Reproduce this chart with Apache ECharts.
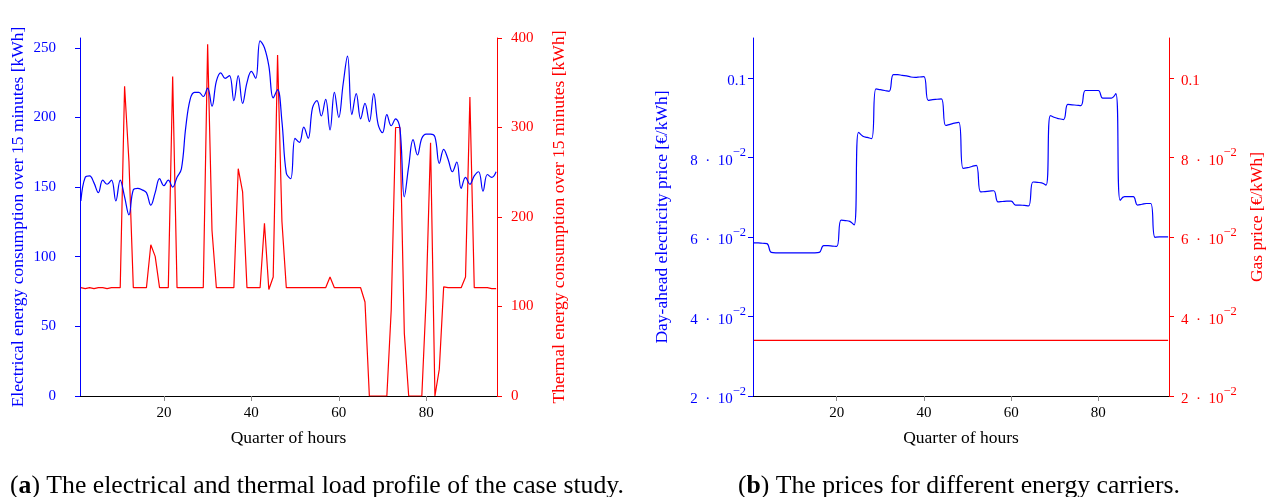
<!DOCTYPE html>
<html>
<head>
<meta charset="utf-8">
<title>Load profile and energy prices</title>
<script src="https://cdn.jsdelivr.net/npm/echarts@6/dist/echarts.min.js"></script>
<style>
  html, body { margin: 0; padding: 0; background: #fff; }
  #chart { width: 1266px; height: 497px; }
</style>
</head>
<body>
<div id="chart"></div>
<script>
// quarter-hour index of the day, 1..96
const quarters = Array.from({ length: 96 }, (_, k) => k + 1)

// (a) electrical energy consumption per quarter [kWh]
const electrical = [
  140, 157, 158, 153, 146, 155, 152, 155, 140, 155,
  143, 130, 148, 149, 148, 146, 137, 146, 156, 151,
  155, 150, 157, 163, 193, 213, 218, 218, 215, 221,
  208, 226, 232, 228, 230, 212, 230, 210, 225, 233,
  228, 255, 250, 237, 214, 220, 197, 160, 156, 185,
  182, 193, 185, 207, 212, 201, 213, 191, 218, 200,
  224, 244, 202, 217, 199, 210, 197, 217, 195, 189,
  202, 194, 199, 192, 143, 165, 184, 173, 185, 188,
  188, 186, 167, 177, 170, 161, 168, 149, 157, 152,
  158, 161, 147, 159, 157, 161
]

// (a) thermal energy consumption per quarter [kWh]
const thermal = [
  121, 120, 121, 120, 121, 121, 120, 121, 121, 121,
  346, 262, 121, 121, 121, 121, 169, 156, 121, 121,
  121, 357, 121, 121, 121, 121, 121, 121, 121, 393,
  185, 121, 121, 121, 121, 121, 254, 228, 121, 121,
  121, 121, 193, 119, 133, 381, 195, 121, 121, 121,
  121, 121, 121, 121, 121, 121, 121, 133, 121, 121,
  121, 121, 121, 121, 121, 105, 0, 0, 0, 0,
  0, 96, 300, 300, 70, 0, 0, 0, 0, 110,
  283, 0, 30, 122, 121, 121, 121, 121, 133, 334,
  121, 121, 121, 121, 120, 120
]

// (b) day-ahead electricity price per quarter [EUR/kWh]
const elecPrice = [
  0.0585, 0.0585, 0.0584, 0.0583,
  0.0561, 0.0560, 0.0560, 0.0560, 0.0560, 0.0560, 0.0560, 0.0560, 0.0560, 0.0560, 0.0560, 0.0561,
  0.0578, 0.0578, 0.0577, 0.0576,
  0.0642, 0.0641, 0.0639, 0.0630,
  0.0863, 0.0853, 0.0850, 0.0847,
  0.0972, 0.0970, 0.0968, 0.0966,
  0.1008, 0.1008, 0.1006, 0.1005,
  0.1002, 0.1001, 0.1002, 0.1003,
  0.0943, 0.0945, 0.0946, 0.0947,
  0.0880, 0.0883, 0.0886, 0.0888,
  0.0772, 0.0774, 0.0777, 0.0780,
  0.0713, 0.0714, 0.0715, 0.0716,
  0.0688, 0.0689, 0.0690, 0.0690,
  0.0680, 0.0680, 0.0679, 0.0678,
  0.0738, 0.0737, 0.0736, 0.0730,
  0.0905, 0.0900, 0.0897, 0.0895,
  0.0933, 0.0932, 0.0931, 0.0930,
  0.0968, 0.0968, 0.0968, 0.0968,
  0.0949, 0.0949, 0.0949, 0.0960,
  0.0692, 0.0701, 0.0701, 0.0701,
  0.0680, 0.0682, 0.0684, 0.0684,
  0.0599, 0.0600, 0.0600, 0.0600
]

// (b) gas price, flat over the day [EUR/kWh]
const gasPrice = 0.034

const xTicks = [20, 40, 60, 80]
const elecTicks = [0, 50, 100, 150, 200, 250]
const heatTicks = [0, 100, 200, 300, 400]
const priceTicks = [0.02, 0.04, 0.06, 0.08, 0.1]

const BLUE = "#0000ff"
const RED = "#ff0000"
const FONT = "Liberation Serif"

function priceLabel(v) {
  if (Math.abs(v - 0.1) < 1e-9) return "{n|0.1}"
  return "{n|" + Math.round(v * 100) + "\u2002·\u200210}{s|−2}"
}

const priceRich = {
  n: { fontFamily: FONT, fontSize: 15, lineHeight: 22, verticalAlign: "bottom" },
  s: { fontFamily: FONT, fontSize: 12.5, lineHeight: 22, verticalAlign: "top" }
}

function xAxis(gridIndex) {
  return {
    type: "value",
    gridIndex,
    min: 0.8,
    max: 96.2,
    name: "Quarter of hours",
    nameLocation: "middle",
    nameGap: 33,
    nameTextStyle: { color: "#000", fontFamily: FONT, fontSize: 17.5 },
    axisLine: { onZero: false, lineStyle: { color: "#000", width: 1 } },
    axisTick: { show: true, length: 5, customValues: xTicks, lineStyle: { color: "#888" } },
    axisLabel: { customValues: xTicks, color: "#000", fontFamily: FONT, fontSize: 15, margin: 10 },
    splitLine: { show: false }
  }
}

function yAxis(gridIndex, pos, color, name, gap, min, max, ticks, margin) {
  return {
    type: "value",
    gridIndex,
    position: pos,
    min,
    max,
    name,
    nameLocation: "middle",
    nameRotate: 90,
    nameGap: gap,
    nameMoveOverlap: false,
    nameTextStyle: { color, fontFamily: FONT, fontSize: 17.5 },
    axisLine: { show: true, onZero: false, lineStyle: { color, width: 1 } },
    axisTick: { show: true, length: 5, customValues: ticks, lineStyle: { color } },
    axisLabel: { customValues: ticks, color, fontFamily: FONT, fontSize: 15, margin },
    splitLine: { show: false }
  }
}

const captionStyle = {
  fontFamily: FONT, fontSize: 25.7, fontWeight: "normal", color: "#000",
  rich: { b: { fontFamily: FONT, fontSize: 25.7, fontWeight: "bold", color: "#000" } }
}

const chart = echarts.init(document.getElementById("chart"))

chart.setOption({
  animation: false,
  backgroundColor: "#fff",
  title: [
    {
      text: "({b|a}) The electrical and thermal load profile of the case study.",
      left: 5,
      top: 468,
      textStyle: captionStyle
    },
    {
      text: "({b|b}) The prices for different energy carriers.",
      left: 733,
      top: 468,
      textStyle: captionStyle
    }
  ],
  grid: [
    { left: 80, right: 769, top: 38, bottom: 101, outerBoundsMode: "none" },
    { left: 753, right: 97, top: 38, bottom: 101, outerBoundsMode: "none" }
  ],
  xAxis: [xAxis(0), xAxis(1)],
  yAxis: [
    yAxis(0, "left", BLUE, "Electrical energy consumption over 15 minutes [kWh]", 53, 0, 257, elecTicks, 24),
    yAxis(0, "right", RED, "Thermal energy consumption over 15 minutes [kWh]", 53, 0, 400, heatTicks, 14),
    yAxis(1, "left", BLUE, "Day-ahead electricity price [€/kWh]", 82, 0.02, 0.11, priceTicks, 7),
    yAxis(1, "right", RED, "Gas price [€/kWh]", 79, 0.02, 0.11, priceTicks, 12)
  ],
  series: [
    {
      type: "line",
      xAxisIndex: 0,
      yAxisIndex: 1,
      data: quarters.map((q, k) => [q, thermal[k]]),
      showSymbol: false,
      lineStyle: { color: RED, width: 1.2 },
      z: 2
    },
    {
      type: "line",
      xAxisIndex: 0,
      yAxisIndex: 0,
      data: quarters.map((q, k) => [q, electrical[k]]),
      smooth: 0.4,
      showSymbol: false,
      lineStyle: { color: BLUE, width: 1.2 },
      z: 3
    },
    {
      type: "line",
      xAxisIndex: 1,
      yAxisIndex: 2,
      data: quarters.map((q, k) => [q, elecPrice[k]]),
      smooth: 0.45,
      showSymbol: false,
      lineStyle: { color: BLUE, width: 1.2 }
    },
    {
      type: "line",
      xAxisIndex: 1,
      yAxisIndex: 3,
      data: quarters.map(q => [q, gasPrice]),
      showSymbol: false,
      lineStyle: { color: RED, width: 1.2 }
    }
  ]
})

chart.setOption({
  yAxis: [{}, {}, { axisLabel: { formatter: priceLabel, rich: priceRich } }, { axisLabel: { formatter: priceLabel, rich: priceRich } }]
})
</script>
</body>
</html>
